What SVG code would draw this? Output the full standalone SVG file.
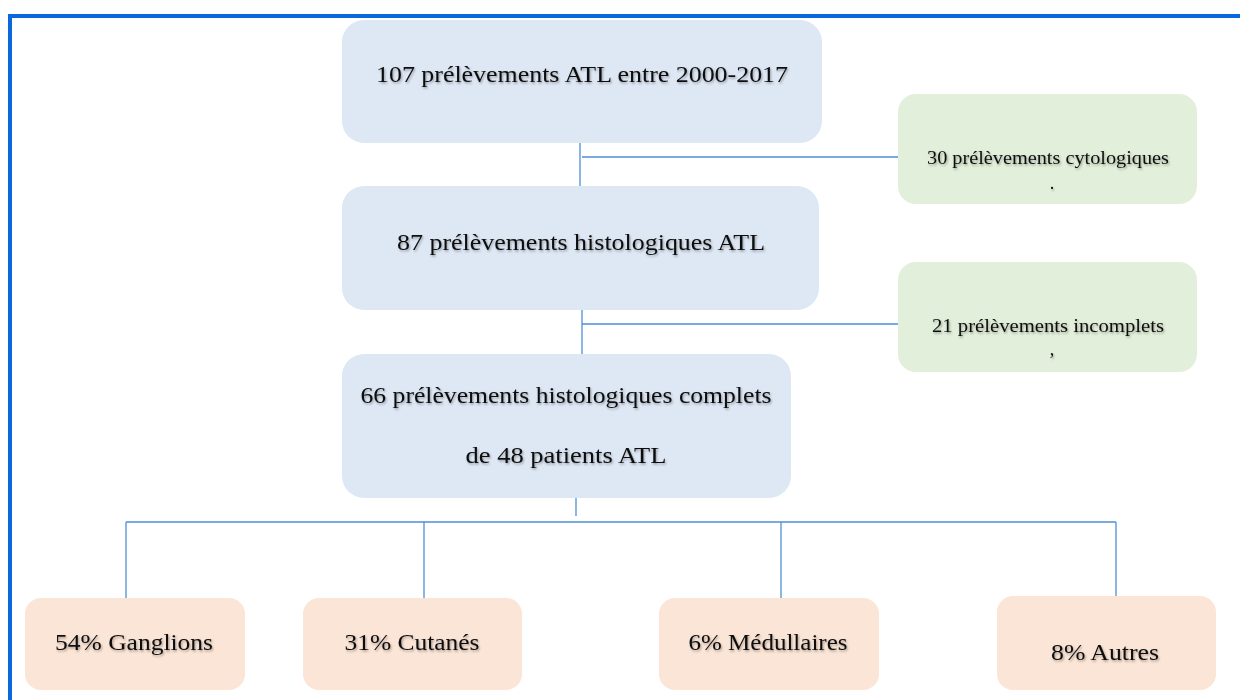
<svg xmlns="http://www.w3.org/2000/svg" width="1240" height="700" viewBox="0 0 1240 700">
<style>
.blue{fill:#DEE8F5}
.green{fill:#E2EFDA}
.peach{fill:#FBE5D6}
.t{font-family:"Liberation Serif","Times New Roman",serif;fill:#111;text-anchor:middle;filter:url(#sh)}
.big{font-size:24px}
.small{font-size:18px}
.c{stroke:#4F8FD6;stroke-width:1.3;fill:none}
</style>
<defs>
<filter id="sh" x="-5%" y="-30%" width="110%" height="160%">
<feDropShadow dx="1" dy="1.5" stdDeviation="1" flood-color="#000" flood-opacity="0.35"/>
</filter>
</defs>
<rect x="0" y="0" width="1240" height="700" fill="#fff"/>
<rect x="10" y="16" width="1250" height="720" fill="none" stroke="#0A68DD" stroke-width="4"/>
<g id="connectors">
<path class="c" d="M580 143V186M582 157H898"/>
<path class="c" d="M582 310V354M582 324H898"/>
<path class="c" d="M576 492V516M126 522H1116M126 522V598M424 522V598M781 522V598M1116 522V598"/>
</g>
<g id="n1"><rect class="blue" x="342" y="20" width="480" height="123" rx="22"/>
<text class="t big" x="582" y="82" textLength="412" lengthAdjust="spacingAndGlyphs">107 prélèvements ATL entre 2000-2017</text></g>
<g id="n2"><rect class="blue" x="342" y="186" width="477" height="124" rx="22"/>
<text class="t big" x="581" y="250" textLength="368" lengthAdjust="spacingAndGlyphs">87 prélèvements histologiques ATL</text></g>
<g id="n3"><rect class="blue" x="342" y="354" width="449" height="144" rx="22"/>
<text class="t big" x="566" y="403" textLength="411" lengthAdjust="spacingAndGlyphs">66 prélèvements histologiques complets</text>
<text class="t big" x="566" y="463" textLength="201" lengthAdjust="spacingAndGlyphs">de 48 patients ATL</text></g>
<g id="g1"><rect class="green" x="898" y="94" width="299" height="110" rx="18"/>
<text class="t small" x="1048" y="164" textLength="242" lengthAdjust="spacingAndGlyphs">30 prélèvements cytologiques</text>
<text class="t small" x="1052" y="189">.</text></g>
<g id="g2"><rect class="green" x="898" y="262" width="299" height="110" rx="18"/>
<text class="t small" x="1052" y="332" textLength="232" lengthAdjust="spacingAndGlyphs" dx="-4">21 prélèvements incomplets</text>
<text class="t small" x="1052" y="355">,</text></g>
<g id="p1"><rect class="peach" x="25" y="598" width="220" height="92" rx="16"/>
<text class="t big" x="134" y="650" textLength="158" lengthAdjust="spacingAndGlyphs">54% Ganglions</text></g>
<g id="p2"><rect class="peach" x="303" y="598" width="219" height="92" rx="16"/>
<text class="t big" x="412" y="650" textLength="135" lengthAdjust="spacingAndGlyphs">31% Cutanés</text></g>
<g id="p3"><rect class="peach" x="659" y="598" width="220" height="92" rx="16"/>
<text class="t big" x="768" y="650" textLength="159" lengthAdjust="spacingAndGlyphs">6% Médullaires</text></g>
<g id="p4"><rect class="peach" x="997" y="596" width="219" height="94" rx="16"/>
<text class="t big" x="1105" y="660" textLength="108" lengthAdjust="spacingAndGlyphs">8% Autres</text></g>
</svg>
